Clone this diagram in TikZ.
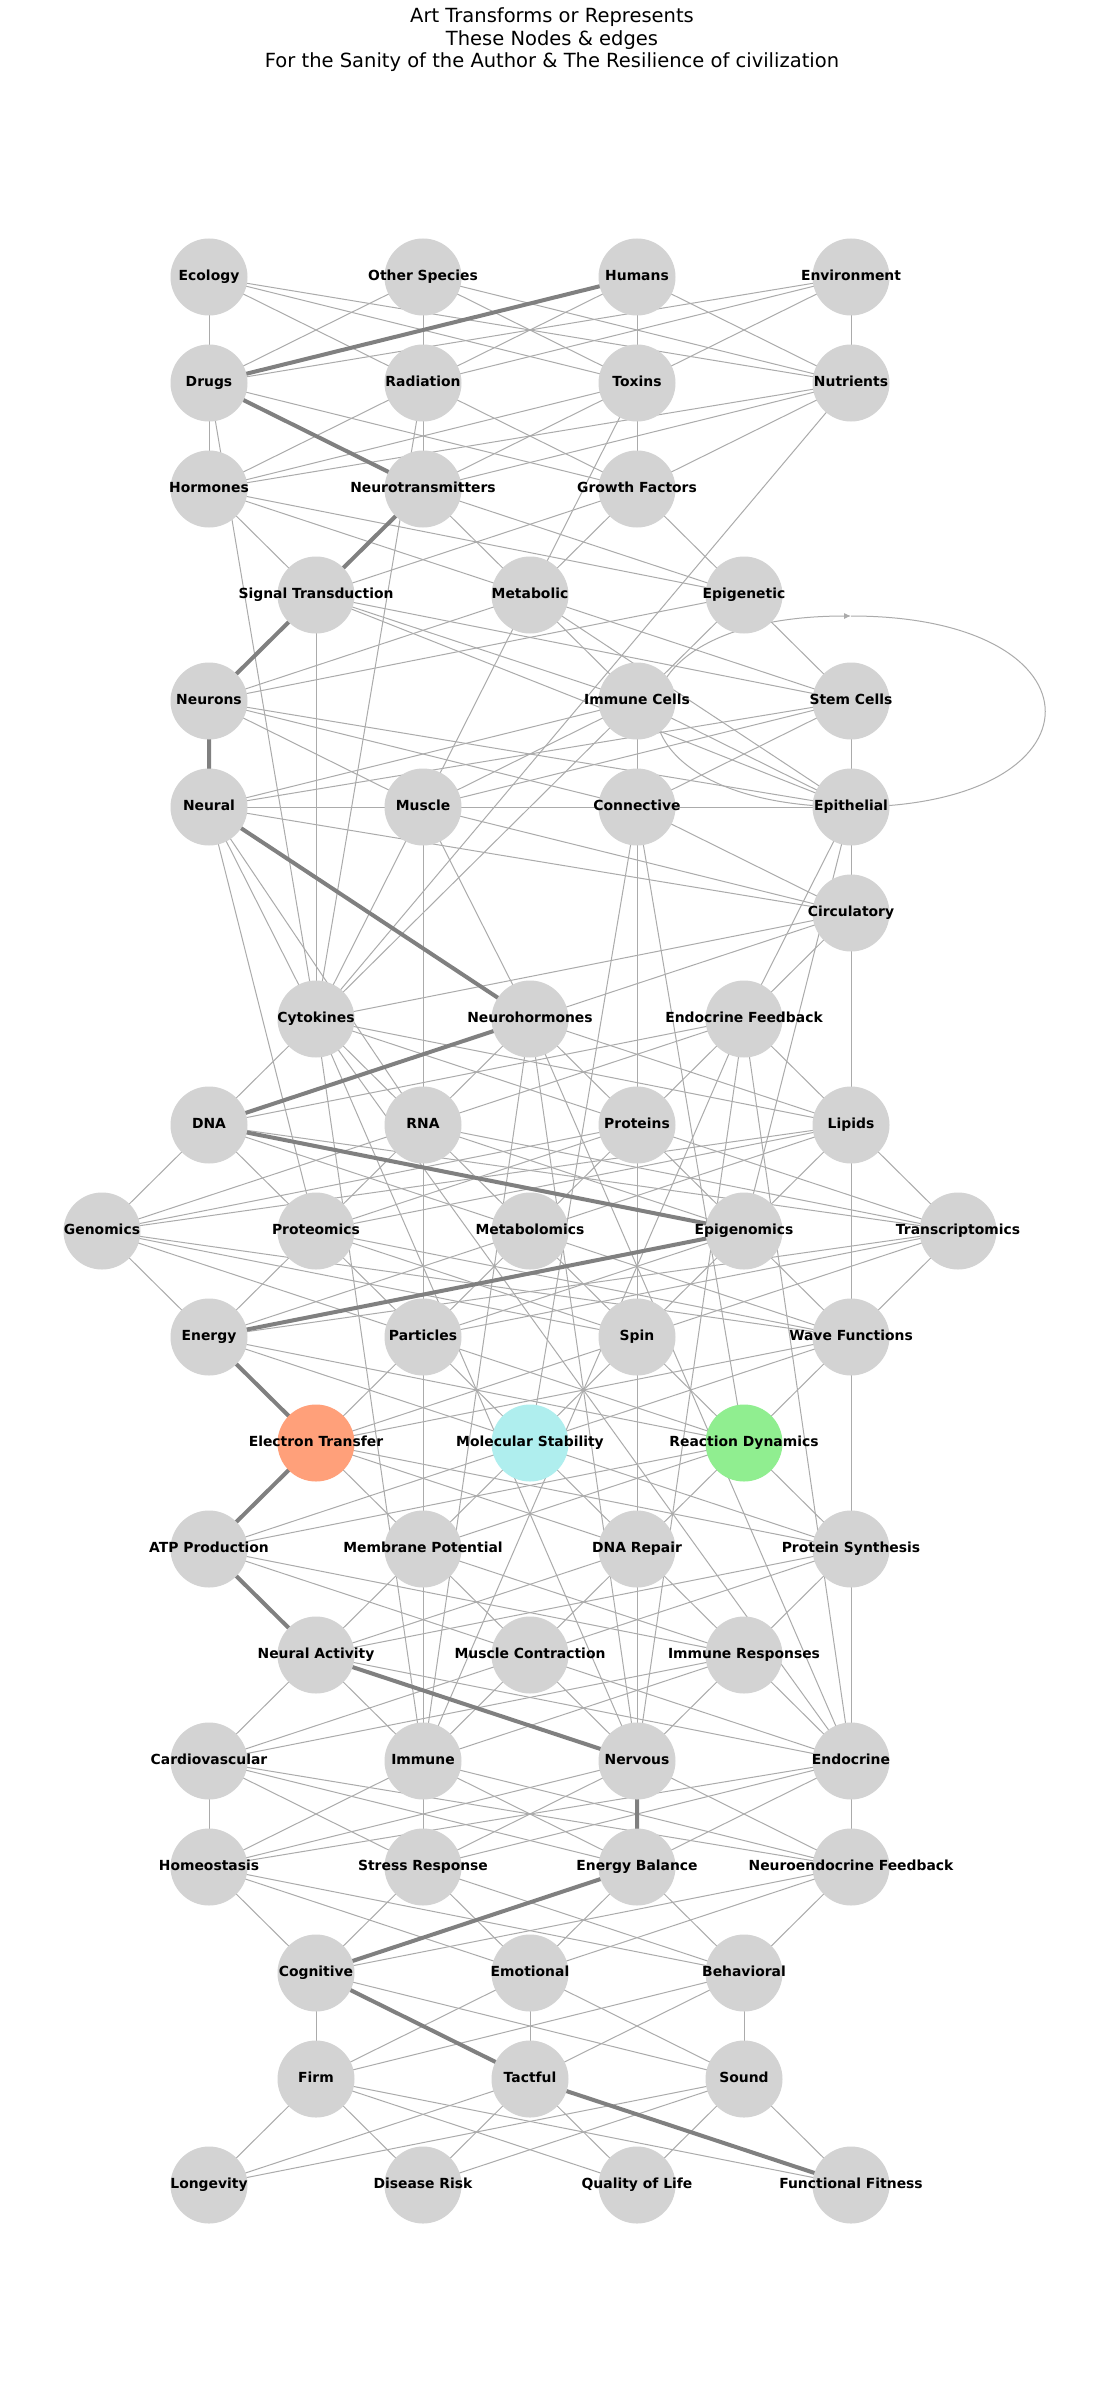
\documentclass[tikz,border=0pt]{standalone}
\usepackage{fontspec}
\setmainfont{DejaVu Sans}
\usetikzlibrary{arrows.meta}
\pgfdeclarelayer{back}
\pgfdeclarelayer{bg}
\pgfsetlayers{back,bg,main}
\definecolor{nodegray}{HTML}{D3D3D3}
\definecolor{nsalmon}{HTML}{FFA07A}
\definecolor{nturq}{HTML}{AFEEEE}
\definecolor{ngreen}{HTML}{90EE90}
\definecolor{edgegray}{HTML}{ABABAB}
\definecolor{thickgray}{HTML}{808080}
\begin{document}
\begin{tikzpicture}[x=1pt,y=-1pt,
  nd/.style={circle,fill=nodegray,minimum size=77pt,inner sep=0pt},
  lab/.style={font=\fontsize{13.9}{16}\selectfont\bfseries,text=black,text height=10.6pt,text depth=3.3pt,inner sep=0pt},
  ed/.style={draw=edgegray,line width=1pt},
  hl/.style={draw=thickgray,line width=4pt},
]
\begin{pgfonlayer}{back}
\fill[white] (0,0) rectangle (1105,2397);
\end{pgfonlayer}
\useasboundingbox (0,0) rectangle (1105,2397);
\node[font=\fontsize{19.5}{22.5}\selectfont,align=center] (title) at (552,40)
  {Art Transforms or Represents\\These Nodes \& edges\\For the Sanity of the Author \& The Resilience of civilization};
% row 1
\node[nd,label={[lab]center:Ecology}] (eco) at (209,277) {};
\node[nd,label={[lab]center:Other Species}] (oth) at (423,277) {};
\node[nd,label={[lab]center:Humans}] (hum) at (637,277) {};
\node[nd,label={[lab]center:Environment}] (env) at (851,277) {};
% row 2
\node[nd,label={[lab]center:Drugs}] (dru) at (209,383) {};
\node[nd,label={[lab]center:Radiation}] (rad) at (423,383) {};
\node[nd,label={[lab]center:Toxins}] (tox) at (637,383) {};
\node[nd,label={[lab]center:Nutrients}] (nut) at (851,383) {};
% row 3
\node[nd,label={[lab]center:Hormones}] (hor) at (209,489) {};
\node[nd,label={[lab]center:Neurotransmitters}] (ntr) at (423,489) {};
\node[nd,label={[lab]center:Growth Factors}] (gro) at (637,489) {};
% row 4
\node[nd,label={[lab]center:Signal Transduction}] (sig) at (316,595) {};
\node[nd,label={[lab]center:Metabolic}] (met) at (530,595) {};
\node[nd,label={[lab]center:Epigenetic}] (epi) at (744,595) {};
% row 5
\node[nd,label={[lab]center:Neurons}] (neu) at (209,701) {};
\node[nd,label={[lab]center:Immune Cells}] (imc) at (637,701) {};
\node[nd,label={[lab]center:Stem Cells}] (stc) at (851,701) {};
% row 6
\node[nd,label={[lab]center:Neural}] (nrl) at (209,807) {};
\node[nd,label={[lab]center:Muscle}] (mus) at (423,807) {};
\node[nd,label={[lab]center:Connective}] (con) at (637,807) {};
\node[nd,label={[lab]center:Epithelial}] (epl) at (851,807) {};
% row 7
\node[nd,label={[lab]center:Circulatory}] (cir) at (851,913) {};
% row 8
\node[nd,label={[lab]center:Cytokines}] (cyt) at (316,1019) {};
\node[nd,label={[lab]center:Neurohormones}] (nho) at (530,1019) {};
\node[nd,label={[lab]center:Endocrine Feedback}] (enf) at (744,1019) {};
% row 9
\node[nd,label={[lab]center:DNA}] (dna) at (209,1125) {};
\node[nd,label={[lab]center:RNA}] (rna) at (423,1125) {};
\node[nd,label={[lab]center:Proteins}] (pro) at (637,1125) {};
\node[nd,label={[lab]center:Lipids}] (lip) at (851,1125) {};
% row 10
\node[nd,label={[lab]center:Genomics}] (gen) at (102,1231) {};
\node[nd,label={[lab]center:Proteomics}] (prm) at (316,1231) {};
\node[nd,label={[lab]center:Metabolomics}] (mtb) at (530,1231) {};
\node[nd,label={[lab]center:Epigenomics}] (epg) at (744,1231) {};
\node[nd,label={[lab]center:Transcriptomics}] (trn) at (958,1231) {};
% row 11
\node[nd,label={[lab]center:Energy}] (ene) at (209,1337) {};
\node[nd,label={[lab]center:Particles}] (par) at (423,1337) {};
\node[nd,label={[lab]center:Spin}] (spi) at (637,1337) {};
\node[nd,label={[lab]center:Wave Functions}] (wav) at (851,1337) {};
% row 12
\node[nd,fill=nsalmon,label={[lab]center:Electron Transfer}] (elt) at (316,1443) {};
\node[nd,fill=nturq,label={[lab]center:Molecular Stability}] (mol) at (530,1443) {};
\node[nd,fill=ngreen,label={[lab]center:Reaction Dynamics}] (rea) at (744,1443) {};
% row 13
\node[nd,label={[lab]center:ATP Production}] (atp) at (209,1549) {};
\node[nd,label={[lab]center:Membrane Potential}] (mem) at (423,1549) {};
\node[nd,label={[lab]center:DNA Repair}] (dnr) at (637,1549) {};
\node[nd,label={[lab]center:Protein Synthesis}] (prs) at (851,1549) {};
% row 14
\node[nd,label={[lab]center:Neural Activity}] (nac) at (316,1655) {};
\node[nd,label={[lab]center:Muscle Contraction}] (mct) at (530,1655) {};
\node[nd,label={[lab]center:Immune Responses}] (imr) at (744,1655) {};
% row 15
\node[nd,label={[lab]center:Cardiovascular}] (car) at (209,1761) {};
\node[nd,label={[lab]center:Immune}] (imm) at (423,1761) {};
\node[nd,label={[lab]center:Nervous}] (ner) at (637,1761) {};
\node[nd,label={[lab]center:Endocrine}] (end) at (851,1761) {};
% row 16
\node[nd,label={[lab]center:Homeostasis}] (hom) at (209,1867) {};
\node[nd,label={[lab]center:Stress Response}] (str) at (423,1867) {};
\node[nd,label={[lab]center:Energy Balance}] (eba) at (637,1867) {};
\node[nd,label={[lab]center:Neuroendocrine Feedback}] (nef) at (851,1867) {};
% row 17
\node[nd,label={[lab]center:Cognitive}] (cog) at (316,1973) {};
\node[nd,label={[lab]center:Emotional}] (emo) at (530,1973) {};
\node[nd,label={[lab]center:Behavioral}] (beh) at (744,1973) {};
% row 18
\node[nd,label={[lab]center:Firm}] (fir) at (316,2079) {};
\node[nd,label={[lab]center:Tactful}] (tac) at (530,2079) {};
\node[nd,label={[lab]center:Sound}] (sou) at (744,2079) {};
% row 19
\node[nd,label={[lab]center:Longevity}] (lon) at (209,2185) {};
\node[nd,label={[lab]center:Disease Risk}] (dis) at (423,2185) {};
\node[nd,label={[lab]center:Quality of Life}] (qol) at (637,2185) {};
\node[nd,label={[lab]center:Functional Fitness}] (fun) at (851,2185) {};

\coordinate (looptop) at (851,616);

\begin{pgfonlayer}{bg}
\foreach \a in {eco,oth,hum,env}{\foreach \b in {dru,rad,tox,nut}{\draw[ed] (\a.center) -- (\b.center);}}
\foreach \a in {dru,rad,tox,nut}{\foreach \b in {hor,ntr,gro}{\draw[ed] (\a.center) -- (\b.center);}}
\foreach \a in {hor,ntr,gro}{\foreach \b in {sig,met,epi}{\draw[ed] (\a.center) -- (\b.center);}}
\foreach \a in {sig,met,epi}{\foreach \b in {neu,imc,stc}{\draw[ed] (\a.center) -- (\b.center);}}
\foreach \a in {neu,imc,stc}{\foreach \b in {nrl,mus,con,epl}{\draw[ed] (\a.center) -- (\b.center);}}
\foreach \a in {nrl,mus,con,epl}{\draw[ed] (\a.center) -- (cir.center);}
\foreach \b in {cyt,nho,enf}{\draw[ed] (cir.center) -- (\b.center);}
\foreach \a in {cyt,nho,enf}{\foreach \b in {dna,rna,pro,lip}{\draw[ed] (\a.center) -- (\b.center);}}
\foreach \a in {dna,rna,pro,lip}{\foreach \b in {gen,prm,mtb,epg,trn}{\draw[ed] (\a.center) -- (\b.center);}}
\foreach \a in {gen,prm,mtb,epg,trn}{\foreach \b in {ene,par,spi,wav}{\draw[ed] (\a.center) -- (\b.center);}}
\foreach \a in {ene,par,spi,wav}{\foreach \b in {elt,mol,rea}{\draw[ed] (\a.center) -- (\b.center);}}
\foreach \a in {elt,mol,rea}{\foreach \b in {atp,mem,dnr,prs}{\draw[ed] (\a.center) -- (\b.center);}}
\foreach \a in {atp,mem,dnr,prs}{\foreach \b in {nac,mct,imr}{\draw[ed] (\a.center) -- (\b.center);}}
\foreach \a in {nac,mct,imr}{\foreach \b in {car,imm,ner,end}{\draw[ed] (\a.center) -- (\b.center);}}
\foreach \a in {car,imm,ner,end}{\foreach \b in {hom,str,eba,nef}{\draw[ed] (\a.center) -- (\b.center);}}
\foreach \a in {hom,str,eba,nef}{\foreach \b in {cog,emo,beh}{\draw[ed] (\a.center) -- (\b.center);}}
\foreach \a in {cog,emo,beh}{\foreach \b in {fir,tac,sou}{\draw[ed] (\a.center) -- (\b.center);}}
\foreach \a in {fir,tac,sou}{\foreach \b in {lon,dis,qol,fun}{\draw[ed] (\a.center) -- (\b.center);}}
% extra long edges
\foreach \a in {dru,rad,tox,nut,sig,imc}{\draw[ed] (\a.center) -- (cyt.center);}
\draw[ed] (nrl.center) -- (epl.center);
\draw[ed] (mus.center) -- (epl.center);
\foreach \b in {imm,ner,end}{\foreach \a in {cyt,nho,enf}{\draw[ed] (\a.center) -- (\b.center);}}
\draw[ed] (mus.center) -- (imm.center);
\draw[ed] (con.center) -- (ner.center);
\draw[ed] (cir.center) -- (end.center);
\draw[ed] (nrl.center) -- (cyt.center);
\draw[ed] (nrl.center) -- (prm.center);
\draw[ed] (nrl.center) -- (rna.center);
\draw[ed] (mus.center) -- (nho.center);
\draw[ed] (con.center) -- (mol.center);
\draw[ed] (con.center) -- (rea.center);
\draw[ed] (epl.center) -- (enf.center);
\draw[ed] (epl.center) -- (epg.center);
\draw[ed] (sig.center) -- (epl.center);
\draw[ed] (met.center) -- (epl.center);
% self loop
\draw[ed,-{Latex[length=7pt,width=6pt]}] (looptop) .. controls (1110,616) and (1110,807) .. (epl.center)
   .. controls (592,807) and (592,616) .. (looptop);
% highlighted path
\draw[hl] (hum.center) -- (dru.center) -- (ntr.center) -- (sig.center) -- (neu.center) -- (nrl.center)
  -- (nho.center) -- (dna.center) -- (epg.center) -- (ene.center) -- (elt.center) -- (atp.center)
  -- (nac.center) -- (ner.center) -- (eba.center) -- (cog.center) -- (tac.center) -- (fun.center);
\end{pgfonlayer}
\end{tikzpicture}
\end{document}
